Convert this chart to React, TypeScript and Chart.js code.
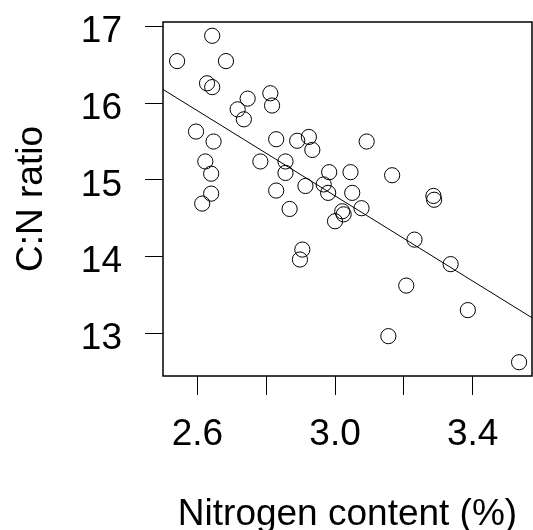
import React, { useEffect, useRef } from 'react';
import { Chart, registerables } from 'chart.js';

Chart.register(...registerables);

// Nitrogen content (%) per sample
const nitrogen = [
  2.541, 2.643, 2.683, 2.628, 2.643, 2.746, 2.717, 2.735, 2.812, 2.817,
  2.596, 2.647, 2.623, 2.640, 2.640, 2.614, 2.783, 2.829, 2.856, 2.856,
  2.829, 2.868, 2.890, 2.924, 2.934, 3.092, 2.914, 2.983, 3.045, 3.166,
  2.967, 2.980, 3.050, 3.077, 3.021, 3.025, 3.000, 2.905, 2.898, 3.231,
  3.286, 3.288, 3.336, 3.207, 3.386, 3.155, 3.535,
];
// C:N ratio per sample
const cnRatio = [
  16.55, 16.88, 16.55, 16.26, 16.21, 16.06, 15.92, 15.79, 16.13, 15.97,
  15.63, 15.50, 15.24, 15.08, 14.82, 14.69, 15.24, 15.53, 15.24, 15.09,
  14.86, 14.62, 15.51, 15.56, 15.39, 15.50, 14.92, 15.10, 15.10, 15.06,
  14.94, 14.83, 14.83, 14.63, 14.59, 14.55, 14.46, 14.09, 13.96, 14.22,
  14.79, 14.74, 13.90, 13.62, 13.30, 12.96, 12.62,
];
// Fitted regression line (end points)
const fitX = [2.5, 3.5725];
const fitY = [16.18, 13.2];

const xTickValues = [2.6, 2.8, 3.0, 3.2, 3.4];
const xTickLabels = ['2.6', '', '3.0', '', '3.4'];
const yTickValues = [13, 14, 15, 16, 17];
const yTickLabels = ['13', '14', '15', '16', '17'];

export default function App() {
  const ref = useRef<HTMLCanvasElement>(null);
  useEffect(() => {
    document.body.style.margin = '0';
    document.body.style.overflow = 'hidden';
    const canvas = ref.current!;
    const family = "'Liberation Sans', Arial, sans-serif";
    const boxPlugin = {
      id: 'box',
      afterDraw(c: any) {
        const { ctx, chartArea: a } = c;
        ctx.save();
        ctx.strokeStyle = '#000';
        ctx.lineWidth = 1.5;
        ctx.strokeRect(a.left, a.top, a.right - a.left, a.bottom - a.top);
        ctx.restore();
      },
    };
    const chart = new Chart(canvas, {
      type: 'scatter',
      data: {
        datasets: [
          {
            type: 'scatter',
            data: nitrogen.map((x, i) => ({ x, y: cnRatio[i] })),
            pointRadius: 7.6,
            pointHoverRadius: 7.6,
            pointStyle: 'circle',
            borderColor: '#000',
            borderWidth: 1,
            backgroundColor: 'rgba(0,0,0,0)',
          },
          {
            type: 'line',
            data: fitX.map((x, i) => ({ x, y: fitY[i] })),
            borderColor: '#000',
            borderWidth: 1,
            pointRadius: 0,
            fill: false,
          },
        ],
      } as any,
      options: {
        responsive: false,
        animation: false,
        events: [],
        layout: { autoPadding: false, padding: { top: 22, right: 1, left: 0, bottom: 0 } },
        plugins: { legend: { display: false }, tooltip: { enabled: false } },
        scales: {
          x: {
            type: 'linear',
            min: 2.5,
            max: 3.5725,
            afterBuildTicks: (s: any) => {
              s.ticks = xTickValues.map((v) => ({ value: v }));
            },
            afterFit: (s: any) => {
              s.height = 154;
              s.paddingLeft = 0;
              s.paddingRight = 0;
            },
            ticks: {
              autoSkip: false,
              minRotation: 0,
              maxRotation: 0,
              color: '#000',
              font: { family, size: 37 },
              padding: 18,
              callback: (_v: any, i: number) => xTickLabels[i],
            },
            grid: { drawOnChartArea: false, drawTicks: true, tickLength: 19, color: '#000', lineWidth: 1 },
            border: { display: false },
            title: {
              display: true,
              text: 'Nitrogen content (%)',
              color: '#000',
              font: { family, size: 37, lineHeight: 0.8 },
              padding: { top: 0, bottom: 0 },
            },
          },
          y: {
            type: 'linear',
            min: 12.44,
            max: 17.06,
            afterBuildTicks: (s: any) => {
              s.ticks = yTickValues.map((v) => ({ value: v }));
            },
            afterFit: (s: any) => {
              s.width = 163;
              s.paddingTop = 0;
              s.paddingBottom = 0;
            },
            ticks: {
              autoSkip: false,
              color: '#000',
              font: { family, size: 37, lineHeight: 0.3 },
              padding: 23,
              callback: (_v: any, i: number) => ['', yTickLabels[i]],
            },
            grid: { drawOnChartArea: false, drawTicks: true, tickLength: 18, color: '#000', lineWidth: 1 },
            border: { display: false },
            title: {
              display: true,
              text: 'C:N ratio',
              color: '#000',
              font: { family, size: 37, lineHeight: 0.8 },
              padding: { top: 17, bottom: 0 },
            },
          },
        },
      } as any,
      plugins: [boxPlugin],
    });
    return () => chart.destroy();
  }, []);
  return (
    <div style={{ position: 'absolute', left: 0, top: 0, width: 533, height: 530 }}>
      <canvas ref={ref} width={533} height={530} style={{ display: 'block', width: 533, height: 530 }} />
    </div>
  );
}
